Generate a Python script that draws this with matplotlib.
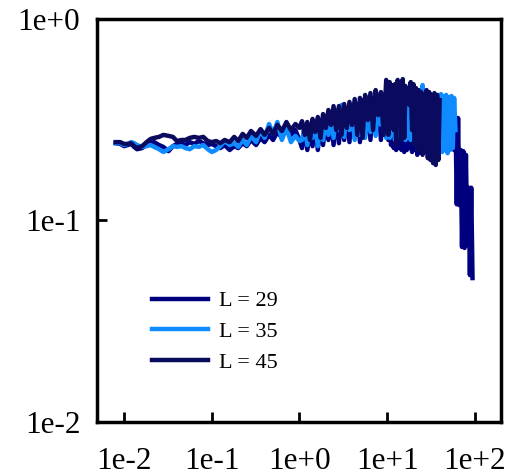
import matplotlib.pyplot as plt

plt.rcParams['font.family'] = ['Liberation Serif', 'DejaVu Serif']

# shared sample times (log spaced, finer above t = 10)
x = [0.008, 0.009, 0.010, 0.011, 0.012, 0.013, 0.014, 0.016, 0.018, 0.020,
     0.022, 0.025, 0.028, 0.032, 0.036, 0.040, 0.045, 0.050, 0.056, 0.063,
     0.071, 0.080, 0.090, 0.100, 0.112, 0.125, 0.140, 0.160, 0.180, 0.200,
     0.225, 0.250, 0.280, 0.320, 0.360, 0.400, 0.450, 0.500, 0.560, 0.630,
     0.710, 0.800, 0.900, 1.00, 1.07, 1.15, 1.23, 1.32, 1.41, 1.51,
     1.62, 1.74, 1.86, 2.00, 2.14, 2.29, 2.45, 2.63, 2.82, 3.02,
     3.24, 3.47, 3.72, 3.98, 4.27, 4.57, 4.90, 5.25, 5.62, 6.03,
     6.46, 6.92, 7.41, 7.94, 8.51, 9.12, 9.77,
     10.35, 10.7, 11.1, 11.5, 11.9, 12.3, 12.7, 13.2, 13.6, 14.1,
     14.6, 15.1, 15.7, 16.2, 16.8, 17.4, 18.0, 18.6, 19.3, 20.0,
     20.7, 21.4, 22.1, 22.9, 23.7, 24.5, 25.4, 26.3, 27.2, 28.2,
     29.2, 30.2, 31.3, 32.4, 33.5, 34.7, 35.9, 37.2, 38.5, 39.8,
     41.2, 42.7, 44.2, 45.7, 47.3, 49.0, 50.7, 52.5, 54.3, 56.2,
     58.2, 60.3, 62.4, 64.6, 66.8, 69.2, 71.6, 74.1, 76.7, 79.4,
     82.2, 85.1, 88.1, 91.2, 94.4]

y29 = [0.241, 0.239, 0.233, 0.236, 0.239, 0.231, 0.225, 0.228, 0.236, 0.241,
       0.244, 0.236, 0.231, 0.220, 0.233, 0.239, 0.241, 0.236, 0.244, 0.239,
       0.247, 0.241, 0.236, 0.239, 0.233, 0.228, 0.236, 0.223, 0.233, 0.228,
       0.241, 0.233, 0.250, 0.236, 0.256, 0.244, 0.265, 0.250, 0.274, 0.256,
       0.287, 0.265, 0.280, 0.250,
       0.228, 0.297, 0.223, 0.287, 0.233, 0.307, 0.223, 0.314, 0.236, 0.321,
       0.250, 0.332, 0.236, 0.344, 0.241, 0.352, 0.250, 0.360, 0.244, 0.373,
       0.256, 0.377, 0.244, 0.394, 0.265, 0.386, 0.250, 0.404, 0.271, 0.394,
       0.250, 0.418, 0.265,
       0.250, 0.394, 0.236, 0.404, 0.228, 0.394, 0.223, 0.418, 0.228, 0.394,
       0.223, 0.404, 0.218, 0.394, 0.223, 0.386, 0.228, 0.394, 0.218, 0.381,
       0.223, 0.373, 0.211, 0.381, 0.218, 0.373, 0.223, 0.360, 0.218, 0.373,
       0.223, 0.360, 0.228, 0.352, 0.223, 0.360, 0.228, 0.352, 0.223, 0.360,
       0.228, 0.352, 0.223, 0.344, 0.228, 0.352, 0.223, 0.344, 0.236, 0.332,
       0.223, 0.325, 0.120, 0.321, 0.119, 0.223, 0.0737, 0.220, 0.0729, 0.211,
       0.0754, 0.145, 0.0535, 0.145, 0.0517]

y35 = [0.241, 0.241, 0.236, 0.239, 0.244, 0.241, 0.236, 0.231, 0.233, 0.236,
       0.231, 0.225, 0.218, 0.225, 0.233, 0.231, 0.233, 0.228, 0.225, 0.233,
       0.231, 0.236, 0.225, 0.218, 0.223, 0.233, 0.247, 0.236, 0.241, 0.231,
       0.250, 0.236, 0.262, 0.244, 0.280, 0.256, 0.300, 0.268, 0.307, 0.250,
       0.287, 0.244, 0.262, 0.247,
       0.250, 0.293, 0.236, 0.287, 0.256, 0.300, 0.233, 0.314, 0.250, 0.321,
       0.265, 0.332, 0.256, 0.352, 0.280, 0.373, 0.259, 0.360, 0.280, 0.344,
       0.250, 0.360, 0.265, 0.332, 0.256, 0.373, 0.274, 0.352, 0.262, 0.394,
       0.297, 0.418, 0.256,
       0.360, 0.256, 0.368, 0.265, 0.332, 0.250, 0.352, 0.274, 0.321, 0.256,
       0.344, 0.280, 0.314, 0.250, 0.360, 0.265, 0.368, 0.250, 0.332, 0.274,
       0.394, 0.256, 0.418, 0.244, 0.442, 0.236, 0.468, 0.228, 0.418, 0.223,
       0.404, 0.236, 0.394, 0.223, 0.418, 0.228, 0.404, 0.218, 0.418, 0.223,
       0.422, 0.218, 0.413, 0.223, 0.418, 0.215, 0.408, 0.223, 0.413, 0.228,
       0.404, 0.280]

y45 = [0.244, 0.244, 0.239, 0.239, 0.241, 0.233, 0.228, 0.233, 0.244, 0.253,
       0.256, 0.259, 0.265, 0.262, 0.259, 0.247, 0.250, 0.250, 0.256, 0.259,
       0.256, 0.259, 0.247, 0.244, 0.247, 0.241, 0.250, 0.244, 0.259, 0.247,
       0.268, 0.256, 0.277, 0.262, 0.283, 0.265, 0.287, 0.268, 0.297, 0.277,
       0.307, 0.280, 0.300, 0.287,
       0.310, 0.265, 0.307, 0.250, 0.318, 0.274, 0.325, 0.256, 0.336, 0.287,
       0.352, 0.297, 0.368, 0.280, 0.368, 0.265, 0.377, 0.287, 0.386, 0.297,
       0.399, 0.265, 0.404, 0.256, 0.418, 0.314, 0.427, 0.280, 0.442, 0.332,
       0.432, 0.265, 0.496,
       0.265, 0.484, 0.394, 0.468, 0.280, 0.473, 0.236, 0.496, 0.297, 0.484,
       0.250, 0.501, 0.256, 0.463, 0.394, 0.452, 0.373, 0.484, 0.280, 0.473,
       0.236, 0.452, 0.223, 0.442, 0.250, 0.432, 0.211, 0.418, 0.223, 0.442,
       0.203, 0.432, 0.199, 0.418, 0.192, 0.427, 0.188, 0.418, 0.199, 0.394]

labels = ['L = 29', 'L = 35', 'L = 45']
colors = ['#00007f', '#0f8bff', '#0a0a5e']

fig = plt.figure(figsize=(5.09, 4.76), dpi=100)
ax = fig.add_axes([0.1906, 0.1134, 0.7937, 0.8477])

for ys, lab, c in zip([y29, y35, y45], labels, colors):
    ax.plot(x[:len(ys)], ys, color=c, lw=3.2, label=lab, solid_joinstyle='round')

ax.set_xscale('log')
ax.set_yscale('log')
ax.set_xlim(10 ** -2.31, 10 ** 2.30)
ax.set_ylim(1e-2, 1e0)

ax.set_xticks([1e-2, 1e-1, 1e0, 1e1, 1e2], ['1e-2', '1e-1', '1e+0', '1e+1', '1e+2'])
ax.set_yticks([1e-2, 1e-1, 1e0], ['1e-2', '1e-1', '1e+0'])
ax.minorticks_off()
ax.tick_params(direction='in', length=7, width=2, labelsize=22.5)
ax.tick_params(axis='x', pad=18)
ax.tick_params(axis='y', pad=12)
for s in ax.spines.values():
    s.set_linewidth(2.5)

ax.legend(loc='upper left', bbox_to_anchor=(0.136, 0.325), frameon=False,
          fontsize=16, handlelength=2.5, handletextpad=0.5, labelspacing=0.45,
          borderpad=0, borderaxespad=0)

fig.savefig('out.png', dpi=100)
